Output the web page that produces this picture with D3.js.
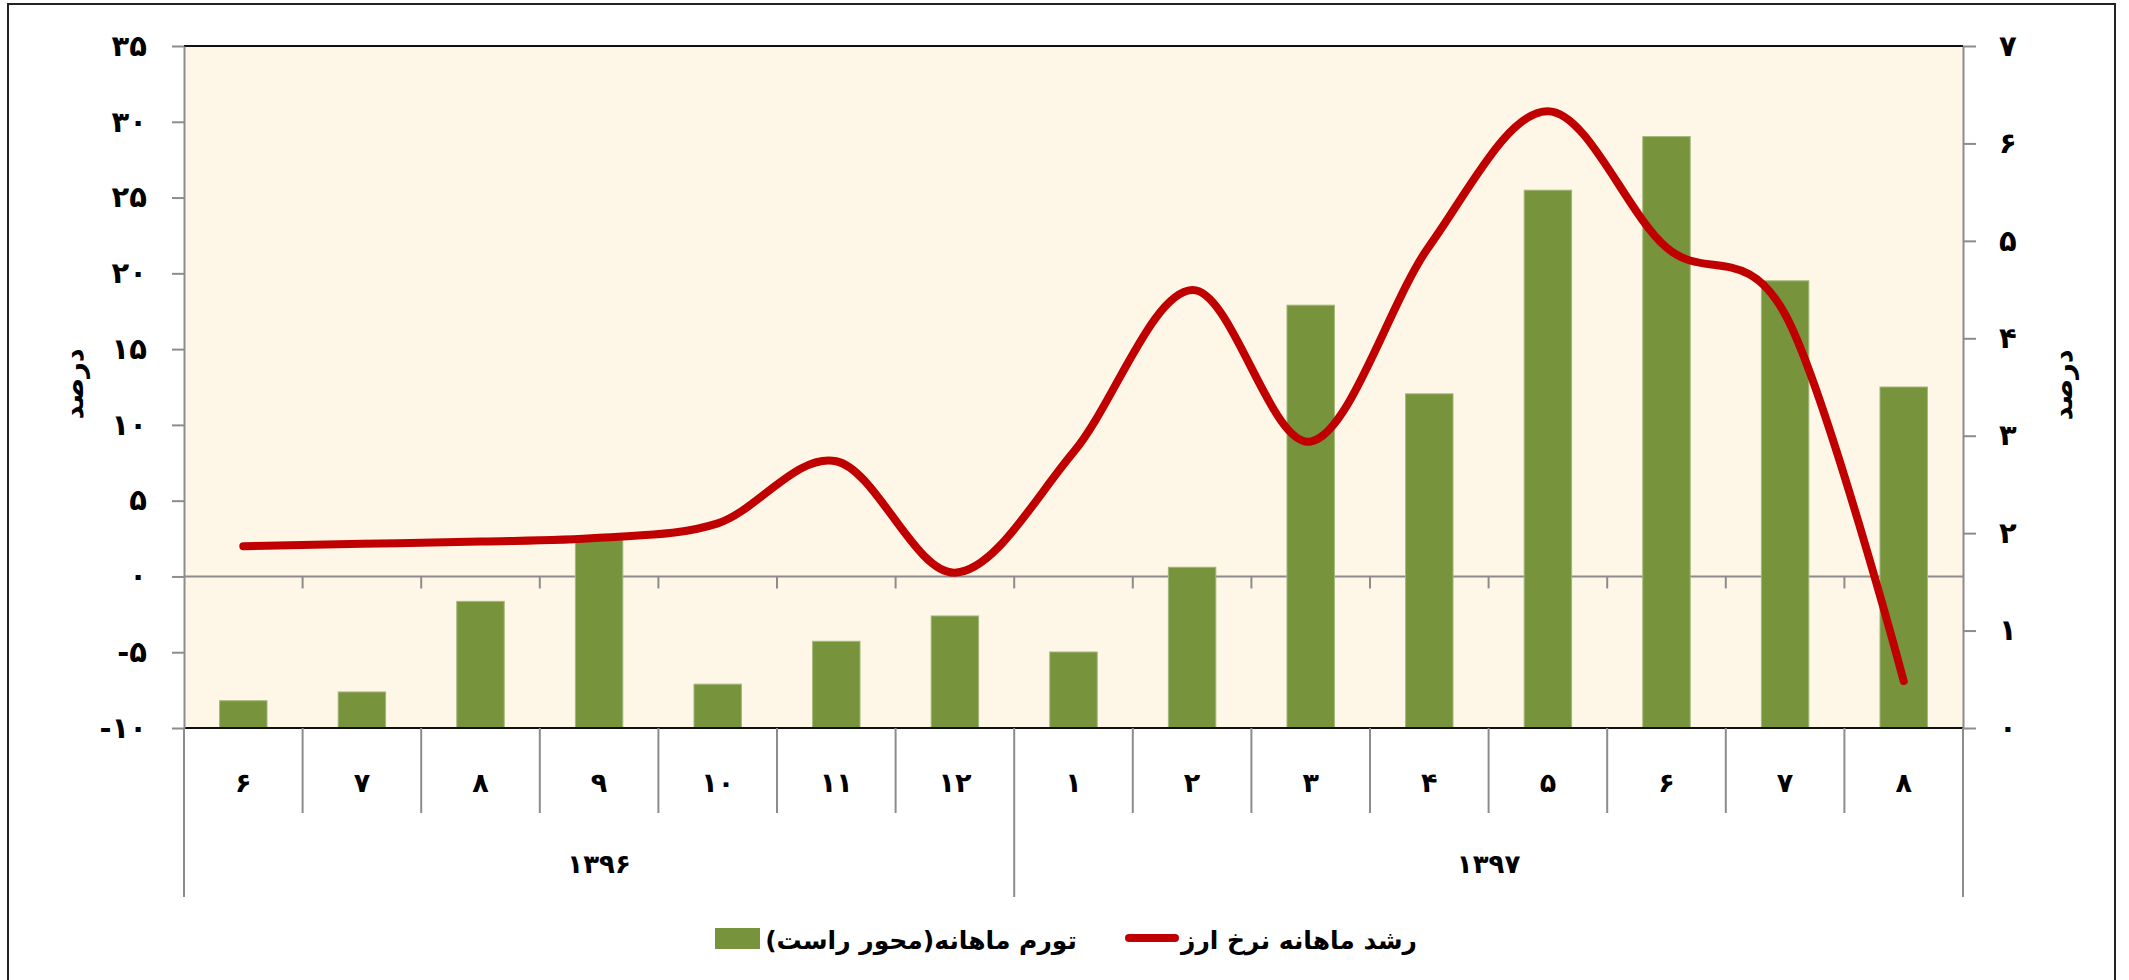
<!DOCTYPE html>
<html>
<head>
<meta charset="utf-8">
<script src="https://cdn.jsdelivr.net/npm/d3@7"></script>
<style>
  html, body { margin: 0; padding: 0; background: #ffffff; }
  svg { display: block; }
  text { font-family: "DejaVu Sans", "Noto Sans", sans-serif; font-weight: bold; fill: #000; }
</style>
</head>
<body>
<svg id="chart" width="2129" height="980"></svg>
<script>
// ---- data ----
const months = ["۶","۷","۸","۹","۱۰","۱۱","۱۲","۱","۲","۳","۴","۵","۶","۷","۸"];
const years = ["۱۳۹۶","۱۳۹۷"];
const yearSpans = [7, 8];
const fxGrowth = [2.0, 2.15, 2.3, 2.55, 3.5, 7.6, 0.25, 8.2, 18.9, 8.9, 21.8, 30.7, 21.7, 17.3, -6.9];
const inflation = [0.28, 0.37, 1.30, 1.95, 0.45, 0.89, 1.15, 0.78, 1.65, 4.34, 3.43, 5.52, 6.07, 4.59, 3.50];
const leftTicks = [-10, -5, 0, 5, 10, 15, 20, 25, 30, 35];
const rightTicks = [0, 1, 2, 3, 4, 5, 6, 7];
const legendLine = "رشد ماهانه نرخ ارز";
const legendBar = "تورم ماهانه(محور راست)";
const axisTitle = "درصد";

const fa = n => String(n).replace(/\d/g, d => "۰۱۲۳۴۵۶۷۸۹"[d]);

// ---- layout ----
const L = 184, R = 1963, T = 46, B = 728;
const monthLineEnd = 813, yearLineEnd = 897;
const grey = "#8c8c8c";

const svg = d3.select("#chart");

// outer border
svg.append("rect").attr("x", 8).attr("y", 4).attr("width", 2107).attr("height", 1000)
  .attr("fill", "none").attr("stroke", "#222").attr("stroke-width", 2);

const x = d3.scaleBand().domain(d3.range(months.length)).range([L, R])
  .paddingInner(0.6).paddingOuter(0.3);
const step = x.step();
const boundary = i => L + i * step;
const yL = d3.scaleLinear().domain([-10, 35]).range([B, T]);
const yR = d3.scaleLinear().domain([0, 7]).range([B, T]);

// plot area
svg.append("rect").attr("x", L).attr("y", T).attr("width", R - L).attr("height", B - T)
  .attr("fill", "#fef7e8");

// zero line + ticks
svg.append("line").attr("x1", L).attr("x2", R).attr("y1", yL(0)).attr("y2", yL(0))
  .attr("stroke", grey).attr("stroke-width", 2);
svg.append("g").selectAll("line").data(d3.range(1, months.length)).join("line")
  .attr("x1", i => boundary(i)).attr("x2", i => boundary(i))
  .attr("y1", yL(0)).attr("y2", yL(0) + 12)
  .attr("stroke", grey).attr("stroke-width", 2);

// bars
svg.append("g").selectAll("rect").data(inflation).join("rect")
  .attr("x", (d, i) => x(i)).attr("width", x.bandwidth())
  .attr("y", d => yR(d)).attr("height", d => yR(0) - yR(d))
  .attr("fill", "#77933c").attr("stroke", "#a3b87a").attr("stroke-width", 1);

// line
const line = d3.line()
  .x((d, i) => x(i) + x.bandwidth() / 2)
  .y(d => yL(d))
  .curve(d3.curveCardinal.tension(0));
svg.append("path").datum(fxGrowth).attr("d", line)
  .attr("fill", "none").attr("stroke", "#c00000").attr("stroke-width", 8)
  .attr("stroke-linecap", "round").attr("stroke-linejoin", "round");

// top and bottom plot borders
svg.append("line").attr("x1", L).attr("x2", R).attr("y1", T).attr("y2", T)
  .attr("stroke", "#111").attr("stroke-width", 2);
svg.append("line").attr("x1", L).attr("x2", R).attr("y1", B).attr("y2", B)
  .attr("stroke", "#111").attr("stroke-width", 2);

// left axis
const gL = svg.append("g").attr("transform", `translate(${L},0)`)
  .call(d3.axisLeft(yL).tickValues(leftTicks).tickFormat(fa).tickSize(12).tickSizeOuter(0));
gL.select(".domain").attr("stroke", grey).attr("stroke-width", 2);
gL.selectAll(".tick line").attr("stroke", grey).attr("stroke-width", 2);
gL.selectAll(".tick text").attr("x", -37).attr("font-size", 29)
  .attr("font-family", "DejaVu Sans").attr("font-weight", "bold").attr("fill", "#000");

// right axis
const gR = svg.append("g").attr("transform", `translate(${R},0)`)
  .call(d3.axisRight(yR).tickValues(rightTicks).tickFormat(fa).tickSize(13).tickSizeOuter(0));
gR.select(".domain").attr("stroke", grey).attr("stroke-width", 2);
gR.selectAll(".tick line").attr("stroke", grey).attr("stroke-width", 2);
gR.selectAll(".tick text").attr("x", 36).attr("font-size", 29)
  .attr("font-family", "DejaVu Sans").attr("font-weight", "bold").attr("fill", "#000");

// category boundary lines below plot
svg.append("g").selectAll("line").data(d3.range(0, months.length + 1)).join("line")
  .attr("x1", i => boundary(i)).attr("x2", i => boundary(i))
  .attr("y1", B).attr("y2", i => (i === 0 || i === 7 || i === months.length) ? yearLineEnd : monthLineEnd)
  .attr("stroke", grey).attr("stroke-width", 2);

// month labels
svg.append("g").selectAll("text").data(months).join("text")
  .attr("x", (d, i) => x(i) + x.bandwidth() / 2).attr("y", 782)
  .attr("text-anchor", "middle").attr("dominant-baseline", "central")
  .attr("font-size", 27).text(d => d);

// year labels
let acc = 0;
years.forEach((yv, k) => {
  const x0 = boundary(acc), x1 = boundary(acc + yearSpans[k]);
  svg.append("text").attr("x", (x0 + x1) / 2).attr("y", 864)
    .attr("text-anchor", "middle").attr("dominant-baseline", "central")
    .attr("font-size", 26).text(yv);
  acc += yearSpans[k];
});

// axis titles
svg.append("text").attr("transform", "translate(73,384) rotate(-90)")
  .attr("text-anchor", "middle").attr("dominant-baseline", "central")
  .attr("font-size", 27).text(axisTitle);
svg.append("text").attr("transform", "translate(2062,385) rotate(-90)")
  .attr("text-anchor", "middle").attr("dominant-baseline", "central")
  .attr("font-size", 27).text(axisTitle);

// legend
svg.append("rect").attr("x", 715).attr("y", 928).attr("width", 45).attr("height", 21)
  .attr("fill", "#77933c");
svg.append("text").attr("x", 921).attr("y", 940).attr("direction", "rtl")
  .attr("text-anchor", "middle").attr("dominant-baseline", "central")
  .attr("font-size", 25).text(legendBar);
svg.append("line").attr("x1", 1129).attr("x2", 1175).attr("y1", 938).attr("y2", 938)
  .attr("stroke", "#c00000").attr("stroke-width", 8).attr("stroke-linecap", "round");
svg.append("text").attr("x", 1299).attr("y", 940).attr("direction", "rtl")
  .attr("text-anchor", "middle").attr("dominant-baseline", "central")
  .attr("font-size", 25).text(legendLine);
</script>
</body>
</html>
